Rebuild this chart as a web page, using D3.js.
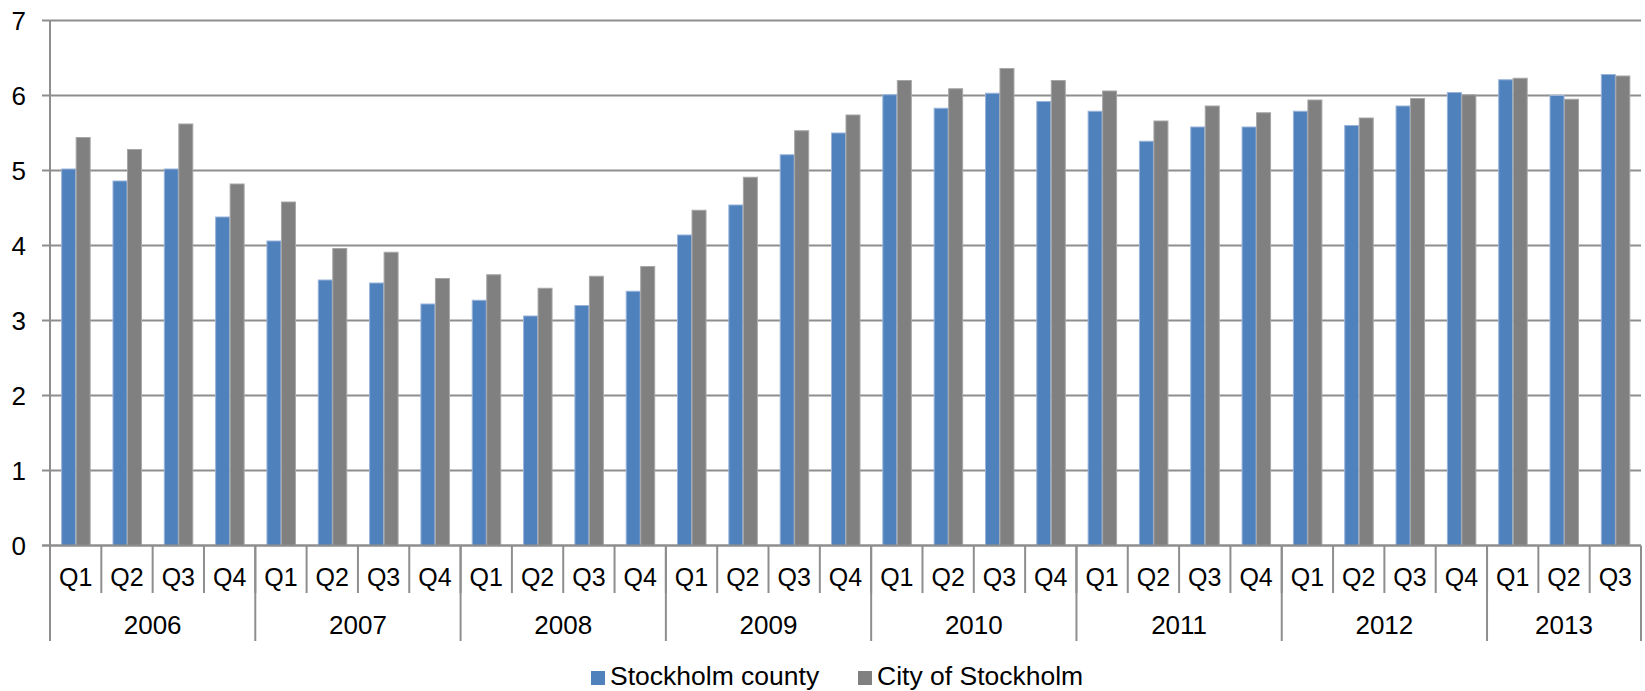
<!DOCTYPE html>
<html>
<head>
<meta charset="utf-8">
<script src="https://cdn.jsdelivr.net/npm/d3@7"></script>
<style>
  html, body { margin: 0; padding: 0; background: #fff; }
  svg { display: block; }
  text { font-family: "Liberation Sans", Arial, sans-serif; fill: #000; }
</style>
</head>
<body>
<svg id="chart" width="1645" height="691"></svg>
<script>
// ---- Data ----
const years = ["2006", "2007", "2008", "2009", "2010", "2011", "2012", "2013"];
const quartersPerYear = [4, 4, 4, 4, 4, 4, 4, 3];
const quarterNames = ["Q1", "Q2", "Q3", "Q4"];
const seriesNames = ["Stockholm county", "City of Stockholm"];
const countyValues = [5.02, 4.86, 5.02, 4.38, 4.06, 3.54, 3.50, 3.22, 3.27, 3.06, 3.20, 3.39,
  4.14, 4.54, 5.21, 5.50, 6.01, 5.83, 6.03, 5.92, 5.79, 5.39, 5.58, 5.58,
  5.79, 5.60, 5.86, 6.04, 6.21, 6.00, 6.28];
const cityValues = [5.44, 5.28, 5.62, 4.82, 4.58, 3.96, 3.91, 3.56, 3.61, 3.43, 3.59, 3.72,
  4.47, 4.91, 5.53, 5.74, 6.20, 6.09, 6.36, 6.20, 6.06, 5.66, 5.86, 5.77,
  5.94, 5.70, 5.96, 6.01, 6.23, 5.95, 6.26];
const yTicks = [0, 1, 2, 3, 4, 5, 6, 7];

(function () {
// ---- Build categories ----
const categories = [];
years.forEach((yr, yi) => {
  for (let q = 0; q < quartersPerYear[yi]; q++) {
    categories.push({ year: yr, quarter: quarterNames[q], idx: categories.length });
  }
});
const rows = categories.map((c, i) => ({ ...c, values: [countyValues[i], cityValues[i]] }));

// ---- Layout ----
const plotLeft = 50, plotRight = 1641, plotTop = 20.5, plotBottom = 545.5;
const colors = ["#4F81BD", "#808080"];
const strokes = ["#9ab4da", "#a6a6a6"];
const gridColor = "#8e8e8e";
const FONT = "'Liberation Sans', Arial, sans-serif";

const svg = d3.select("#chart");

const x = d3.scaleBand()
  .domain(categories.map(c => c.idx))
  .range([plotLeft, plotRight])
  .paddingInner(0.435)
  .paddingOuter(0.2175);
const step = x.step();
const xSub = d3.scaleBand().domain([0, 1]).range([0, x.bandwidth()]).padding(0);
const y = d3.scaleLinear().domain([0, 7]).range([plotBottom, plotTop]);

// Gridlines
svg.append("g").selectAll("line")
  .data(yTicks)
  .join("line")
  .attr("x1", plotLeft - 8).attr("x2", plotRight)
  .attr("y1", d => y(d)).attr("y2", d => y(d))
  .attr("stroke", gridColor).attr("stroke-width", 2);

// Y axis labels
const yAxis = d3.axisLeft(y).tickValues(yTicks).tickSize(0).tickPadding(0).tickFormat(d3.format("d"));
const yg = svg.append("g").attr("transform", `translate(${plotLeft - 24},0)`).call(yAxis);
yg.attr("font-size", 26).attr("font-family", FONT);
yg.select(".domain").remove();
yg.selectAll("text")
  .attr("font-size", 26)
  .style("font-size", "26px")
  .attr("fill", "#000").attr("dy", "0.33em");

// Bars
const groups = svg.append("g").selectAll("g")
  .data(rows)
  .join("g")
  .attr("transform", d => `translate(${x(d.idx)},0)`);
groups.selectAll("rect")
  .data(d => d.values.map((v, k) => ({ v, k })))
  .join("rect")
  .attr("x", d => xSub(d.k) + 0.5)
  .attr("width", xSub.bandwidth() - 0.5)
  .attr("y", d => y(d.v))
  .attr("height", d => y(0) - y(d.v))
  .attr("fill", d => colors[d.k])
  .attr("stroke", d => strokes[d.k])
  .attr("stroke-width", 1);

// Y axis line
svg.append("line")
  .attr("x1", plotLeft).attr("x2", plotLeft)
  .attr("y1", plotTop).attr("y2", 641)
  .attr("stroke", gridColor).attr("stroke-width", 2);
// Baseline
svg.append("line")
  .attr("x1", plotLeft - 8).attr("x2", plotRight)
  .attr("y1", y(0)).attr("y2", y(0))
  .attr("stroke", gridColor).attr("stroke-width", 2);

// Quarter dividers
svg.append("g").selectAll("line")
  .data(categories.slice(1))
  .join("line")
  .attr("x1", d => x(d.idx) - (step - x.bandwidth()) / 2)
  .attr("x2", d => x(d.idx) - (step - x.bandwidth()) / 2)
  .attr("y1", y(0)).attr("y2", 593)
  .attr("stroke", gridColor).attr("stroke-width", 2);

// Year dividers
let cum = 0;
const yearSpans = years.map((yr, yi) => {
  const s = { year: yr, start: cum, end: cum + quartersPerYear[yi] };
  cum += quartersPerYear[yi];
  return s;
});
const edge = i => plotLeft + i * step;
svg.append("g").selectAll("line")
  .data(yearSpans)
  .join("line")
  .attr("x1", d => edge(d.end)).attr("x2", d => edge(d.end))
  .attr("y1", y(0)).attr("y2", 641)
  .attr("stroke", gridColor).attr("stroke-width", 2);

// Quarter labels
svg.append("g").selectAll("text")
  .data(categories)
  .join("text")
  .attr("x", d => x(d.idx) + x.bandwidth() / 2)
  .attr("y", 586)
  .attr("text-anchor", "middle")
  .style("font-size", "25px")
  .text(d => d.quarter);

// Year labels
svg.append("g").selectAll("text")
  .data(yearSpans)
  .join("text")
  .attr("x", d => (edge(d.start) + edge(d.end)) / 2)
  .attr("y", 634)
  .attr("text-anchor", "middle")
  .style("font-size", "26px")
  .text(d => d.year);

// Legend
const legendItems = [
  { name: seriesNames[0], color: colors[0], x: 591 },
  { name: seriesNames[1], color: colors[1], x: 858 }
];
const lg = svg.append("g").selectAll("g").data(legendItems).join("g")
  .attr("transform", d => `translate(${d.x},0)`);
lg.append("rect").attr("x", 0).attr("y", 671).attr("width", 14).attr("height", 14)
  .attr("fill", d => d.color);
lg.append("text").attr("x", 19).attr("y", 685)
  .style("font-size", "26.5px")
  .text(d => d.name);
})();
</script>
</body>
</html>
